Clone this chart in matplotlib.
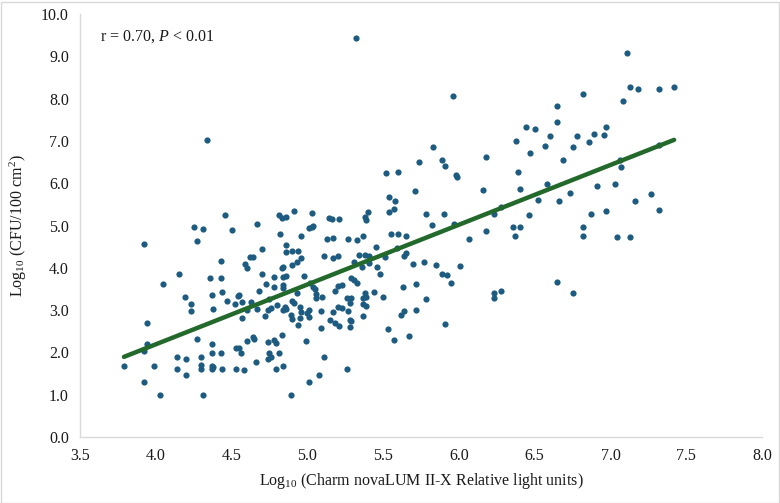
import numpy as np
import matplotlib
matplotlib.use("Agg")
import matplotlib.pyplot as plt
from matplotlib.patches import Rectangle

# Log10 RLU (x) and Log10 CFU/100 cm2 (y)
rlu = [
    4.34, 4.46, 4.25, 4.31, 4.50, 4.27, 3.92, 4.43, 4.15, 4.05, 4.36, 4.43, 4.19, 4.37, 4.44, 4.55,
    4.54, 4.23, 4.23, 4.38, 4.47, 4.52, 3.94, 4.27, 3.94, 3.92, 4.37, 4.14, 4.20, 4.30, 4.37, 4.43,
    4.53, 4.55, 3.79, 3.99, 4.14, 4.20, 4.30, 4.30, 4.37, 4.38, 4.37, 4.44, 4.53, 3.92, 4.03, 4.31,
    4.59, 4.60, 4.57, 4.57, 4.60, 4.60, 4.56, 4.58,
    4.81, 4.83, 4.86, 4.91, 5.03, 4.67, 5.01, 5.03, 5.04, 4.82, 4.96, 4.70, 4.86, 4.86, 4.90, 4.94,
    4.62, 4.64, 4.90, 4.93, 4.96, 4.83, 4.84, 4.70, 4.78, 4.84, 4.86, 4.98, 4.73, 4.78, 4.84, 4.84,
    5.02, 5.04, 4.68, 4.93, 4.75, 4.63, 4.80, 4.74, 4.76, 4.84, 4.85, 4.86, 4.90, 4.91, 4.95, 4.96,
    5.01, 5.00, 5.01, 4.67, 4.72, 4.89, 4.90, 4.95, 4.94, 4.64, 4.65, 4.74, 4.78, 4.79, 4.83, 4.99,
    4.75, 4.76, 4.81, 4.74, 4.66, 4.79, 4.84, 5.01, 4.89,
    5.32, 5.52, 5.54, 5.54, 5.57, 5.14, 5.16, 5.21, 5.38, 5.39, 5.40, 5.13, 5.17, 5.27, 5.33, 5.37,
    5.55, 5.11, 5.17, 5.20, 5.45, 5.34, 5.38, 5.41, 5.31, 5.41, 5.36, 5.46, 5.51, 5.48, 5.05, 5.06,
    5.06, 5.29, 5.31, 5.33, 5.20, 5.23, 5.18, 5.10, 5.26, 5.29, 5.28, 5.38, 5.39, 5.37, 5.44, 5.50,
    5.09, 5.20, 5.23, 5.27, 5.37, 5.39, 5.17, 5.37, 5.15, 5.18, 5.21, 5.28, 5.29, 5.09, 5.28, 5.53,
    5.57, 5.11, 5.08, 5.26,
    5.96, 5.83, 5.74, 5.89, 5.91, 5.98, 5.99, 5.60, 5.71, 5.58, 5.78, 5.90, 5.82, 5.97, 6.07, 5.60,
    5.65, 5.59, 5.64, 5.65, 5.70, 5.77, 5.85, 5.89, 5.92, 6.01, 5.95, 5.63, 5.72, 5.78, 5.62, 5.64,
    5.72, 5.91, 5.67,
    6.82, 6.65, 6.65, 6.44, 6.50, 6.38, 6.60, 6.57, 6.78, 6.89, 6.86, 6.75, 6.18, 6.47, 6.69, 6.39,
    6.16, 6.40, 6.58, 6.73, 6.91, 6.28, 6.23, 6.52, 6.66, 6.46, 6.87, 6.18, 6.36, 6.40, 6.37, 6.82,
    6.82, 6.65, 6.75, 6.28, 6.23, 6.23,
    7.11, 7.13, 7.18, 7.32, 7.42, 7.08, 6.97, 6.96, 7.32, 7.06, 7.07, 7.03, 7.27, 7.16, 6.97, 7.32,
    7.04, 7.13,
]
cfu = [
    7.02, 5.25, 4.96, 4.92, 4.89, 4.63, 4.57, 4.15, 3.86, 3.61, 3.76, 3.76, 3.31, 3.35, 3.43, 3.36,
    3.33, 3.15, 2.99, 3.03, 3.22, 3.15, 2.70, 2.31, 2.20, 2.04, 2.20, 1.89, 1.84, 1.89, 1.99, 1.99,
    2.10, 2.10, 1.69, 1.69, 1.60, 1.47, 1.70, 1.60, 1.69, 1.65, 1.60, 1.60, 1.60, 1.29, 0.99, 0.99,
    4.08, 3.99, 3.19, 2.81, 3.00, 2.27, 1.99, 1.59,
    5.25, 5.17, 5.21, 5.34, 5.29, 5.04, 4.93, 4.96, 4.99, 4.81, 4.75, 4.44, 4.54, 4.38, 4.40, 4.40,
    4.26, 4.26, 4.07, 4.14, 4.24, 3.99, 4.03, 3.85, 3.79, 3.79, 3.81, 3.81, 3.61, 3.55, 3.59, 3.52,
    3.63, 3.55, 3.44, 3.40, 3.26, 3.20, 3.12, 3.00, 3.04, 3.00, 3.08, 3.03, 3.22, 3.16, 3.08, 2.96,
    3.00, 2.92, 2.84, 3.02, 2.87, 2.88, 2.78, 2.81, 2.65, 2.37, 2.31, 2.25, 2.29, 2.22, 2.41, 2.27,
    1.99, 1.90, 1.99, 1.84, 1.78, 1.60, 1.69, 1.29, 0.99,
    9.43, 6.25, 5.68, 5.32, 5.39, 5.17, 5.15, 5.15, 5.21, 5.13, 5.33, 4.68, 4.70, 4.67, 4.66, 4.76,
    4.80, 4.28, 4.24, 4.28, 4.48, 4.30, 4.30, 4.28, 4.13, 4.11, 4.01, 4.03, 4.26, 3.85, 3.50, 3.38,
    3.29, 3.75, 3.71, 3.65, 3.57, 3.59, 3.46, 3.32, 3.29, 3.29, 3.16, 3.40, 3.32, 3.28, 3.42, 3.32,
    2.98, 3.08, 3.04, 2.98, 3.14, 3.10, 2.96, 2.86, 2.77, 2.70, 2.62, 2.77, 2.74, 2.58, 2.61, 2.55,
    2.29, 1.90, 1.47, 1.60,
    8.07, 6.86, 6.51, 6.56, 6.41, 6.20, 6.15, 6.27, 5.82, 5.58, 5.27, 5.27, 5.02, 5.03, 4.67, 4.79,
    4.76, 4.46, 4.29, 4.36, 4.08, 4.13, 4.07, 3.85, 3.83, 4.05, 3.65, 3.55, 3.62, 3.26, 2.88, 2.98,
    3.00, 2.67, 2.39,
    8.10, 7.82, 7.44, 7.33, 7.29, 7.00, 7.11, 6.87, 7.12, 7.17, 6.97, 6.86, 6.62, 6.72, 6.54, 6.27,
    5.84, 5.87, 5.98, 5.76, 5.93, 5.44, 5.27, 5.60, 5.58, 5.26, 5.27, 4.87, 4.97, 4.97, 4.76, 4.97,
    4.76, 3.66, 3.41, 3.46, 3.40, 3.29,
    9.08, 8.28, 8.22, 8.23, 8.28, 7.95, 7.34, 7.14, 6.90, 6.55, 6.38, 5.97, 5.74, 5.59, 5.34, 5.37,
    4.73, 4.73,
]

x_ticks = [3.5, 4.0, 4.5, 5.0, 5.5, 6.0, 6.5, 7.0, 7.5, 8.0]
y_ticks = [0, 1, 2, 3, 4, 5, 6, 7, 8, 9, 10]

x = np.array(rlu)
y = np.array(cfu)

plt.rcParams['font.family'] = ['Liberation Serif', 'DejaVu Serif']
plt.rcParams['mathtext.fontset'] = 'custom'
plt.rcParams['mathtext.rm'] = 'Liberation Serif'
plt.rcParams['mathtext.it'] = 'Liberation Serif:italic'

FS = 11.5
TXT = '#1a1a1a'

fig = plt.figure(figsize=(7.8, 5.03), dpi=100)
ax = fig.add_axes([80/780, 1 - 437/503, (762 - 80)/780, (437 - 14)/503])

ax.scatter(x, y, s=20, color='#1d5b80', zorder=3, linewidths=0)

coef = np.polyfit(x, y, 1)
lx = np.array([x.min(), x.max()])
ax.plot(lx, np.polyval(coef, lx), color='#23692b', lw=3.2, solid_capstyle='round', zorder=4)

ax.set_xlim(3.5, 8.0)
ax.set_ylim(0, 10)
ax.set_xticks(x_ticks)
ax.set_xticklabels([f"{v:.1f}" for v in x_ticks])
ax.set_yticks(y_ticks)
ax.set_yticklabels([f"{v:.1f}" for v in y_ticks])
ax.tick_params(length=0, labelsize=FS, colors=TXT, pad=8)

for s in ['top', 'right']:
    ax.spines[s].set_visible(False)
for s in ['left', 'bottom']:
    ax.spines[s].set_color('#d9d9d9')
    ax.spines[s].set_linewidth(1.0)

ax.set_xlabel(r"Log$_{10}$ (Charm novaLUM II-X Relative light units)", fontsize=FS, color=TXT, labelpad=5)
ax.set_ylabel(r"Log$_{10}$ (CFU/100 cm$^{2}$)", fontsize=FS, color=TXT, labelpad=9)

ax.text(100/780, 1 - 37/503, r"r = 0.70, $P$ < 0.01", transform=fig.transFigure,
        fontsize=FS, color=TXT, va='center', ha='left')

fig.patches.append(Rectangle((0.5/780, 0.5/503), 1 - 2/780, 1 - 2/503, transform=fig.transFigure,
                             fill=False, edgecolor='#d9d9d9', lw=1.0))

fig.savefig("out.png", dpi=100, facecolor='white')
